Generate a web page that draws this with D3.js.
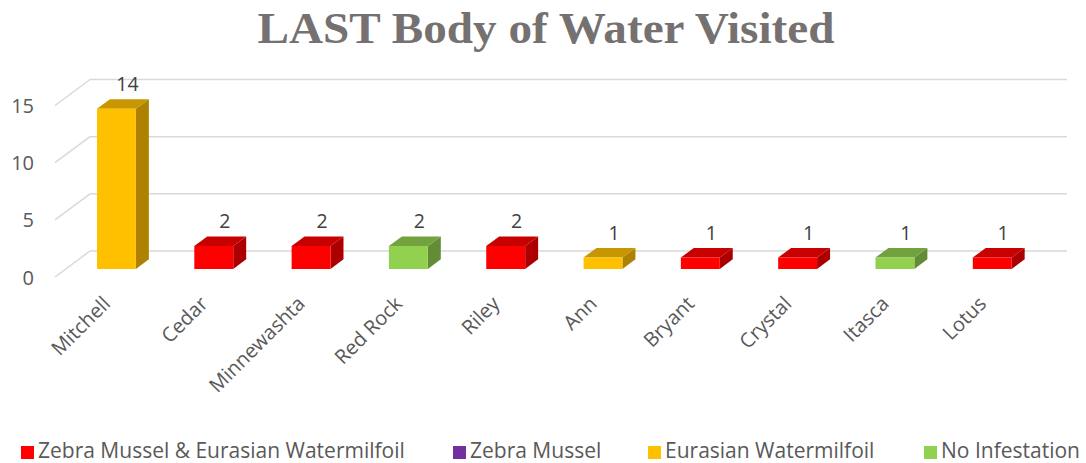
<!DOCTYPE html>
<html><head><meta charset="utf-8">
<script src="https://cdn.jsdelivr.net/npm/d3@7"></script>
<style>body{margin:0;background:#fff}svg{display:block}</style>
</head><body>
<svg id="c" width="1086" height="463"></svg>
<script>
const categories = ["Mitchell","Cedar","Minnewashta","Red Rock","Riley","Ann","Bryant","Crystal","Itasca","Lotus"];
const values = [14,2,2,2,2,1,1,1,1,1];
const infestation = ["Eurasian Watermilfoil","Zebra Mussel & Eurasian Watermilfoil","Zebra Mussel & Eurasian Watermilfoil","No Infestation","Zebra Mussel & Eurasian Watermilfoil","Eurasian Watermilfoil","Zebra Mussel & Eurasian Watermilfoil","Zebra Mussel & Eurasian Watermilfoil","No Infestation","Zebra Mussel & Eurasian Watermilfoil"];
const seriesNames = ["Zebra Mussel & Eurasian Watermilfoil","Zebra Mussel","Eurasian Watermilfoil","No Infestation"];
const seriesColors = ["#FF0000","#7030A0","#FFC000","#92D050"];
const yTicks = [0,5,10,15];

const svg = d3.select("#c");
const fontSans = "'Open Sans', 'Noto Sans', sans-serif";

// 3D geometry
const DX = 35, DY = -26;            // full floor depth offset
const floorFront = 277;
const x = d3.scaleBand().domain(categories).range([55, 1032]).paddingInner(0.6).paddingOuter(0.32);
const h = d3.scaleLinear().domain([0, 15]).range([0, 171.5]);
const color = d3.scaleOrdinal().domain(seriesNames).range(seriesColors);
const shade = (c, k) => d3.color(c).darker(k).formatHex();
const P = (px, py, d) => [px + DX * d, py + DY * d];

// title
svg.append("text").attr("x", 546).attr("y", 43).attr("text-anchor", "middle")
  .attr("font-family", "'Liberation Serif', 'DejaVu Serif', serif").attr("font-weight", "bold")
  .attr("font-size", 45).attr("textLength", 577).attr("lengthAdjust", "spacingAndGlyphs")
  .attr("fill", "#767171").text("LAST Body of Water Visited");

// gridlines
const g = svg.append("g");
yTicks.forEach(t => {
  const yf = floorFront - h(t);
  const [bx, by] = P(55, yf, 1);
  g.append("line").attr("x1", 55).attr("y1", yf).attr("x2", bx).attr("y2", by)
    .attr("stroke", "#D9D9D9").attr("stroke-width", 1.5);
  g.append("line").attr("x1", bx).attr("y1", by).attr("x2", 1032 + DX).attr("y2", by)
    .attr("stroke", "#D9D9D9").attr("stroke-width", 1.5);
  svg.append("text").attr("x", 34).attr("y", yf + 7.5).attr("text-anchor", "end")
    .attr("font-family", fontSans).attr("font-size", 20).attr("fill", "#595959").text(t);
});

// bars
const d0 = 0.31, d1 = 0.68;
const bars = svg.append("g");
categories.forEach((c, i) => {
  const col = color(infestation[i]);
  const xl = x(c), xr = xl + x.bandwidth();
  const yb = floorFront, yt = floorFront - h(values[i]);
  const fl = P(xl, yb, d0), fr = P(xr, yb, d0), tl = P(xl, yt, d0), tr = P(xr, yt, d0);
  const btl = P(xl, yt, d1), btr = P(xr, yt, d1), bbr = P(xr, yb, d1);
  const poly = pts => pts.map(p => p.join(",")).join(" ");
  bars.append("polygon").attr("points", poly([fr, tr, btr, bbr])).attr("fill", shade(col, 1.1));
  bars.append("polygon").attr("points", poly([tl, tr, btr, btl])).attr("fill", shade(col, 0.7));
  bars.append("polygon").attr("points", poly([fl, fr, tr, tl])).attr("fill", col);
  // value label
  svg.append("text").attr("x", (btl[0] + btr[0]) / 2 - 2).attr("y", btl[1] - 8)
    .attr("text-anchor", "middle").attr("font-family", fontSans).attr("font-size", 19.5)
    .attr("fill", "#404040").text(values[i]);
  // category label
  const cx = xl + x.bandwidth() / 2 + 6;
  svg.append("text").attr("transform", `translate(${cx},${305}) rotate(-45)`)
    .attr("text-anchor", "end").attr("font-family", fontSans).attr("font-size", 20)
    .attr("fill", "#595959").text(c);
});

// legend
const legX = [21, 453, 648, 924];
const leg = svg.append("g");
seriesNames.forEach((s, i) => {
  leg.append("rect").attr("x", legX[i]).attr("y", 446).attr("width", 13).attr("height", 13).attr("fill", seriesColors[i]);
  leg.append("text").attr("x", legX[i] + 17).attr("y", 458).attr("font-family", fontSans)
    .attr("font-size", 21).attr("fill", "#595959").text(s);
});
</script>
</body></html>
